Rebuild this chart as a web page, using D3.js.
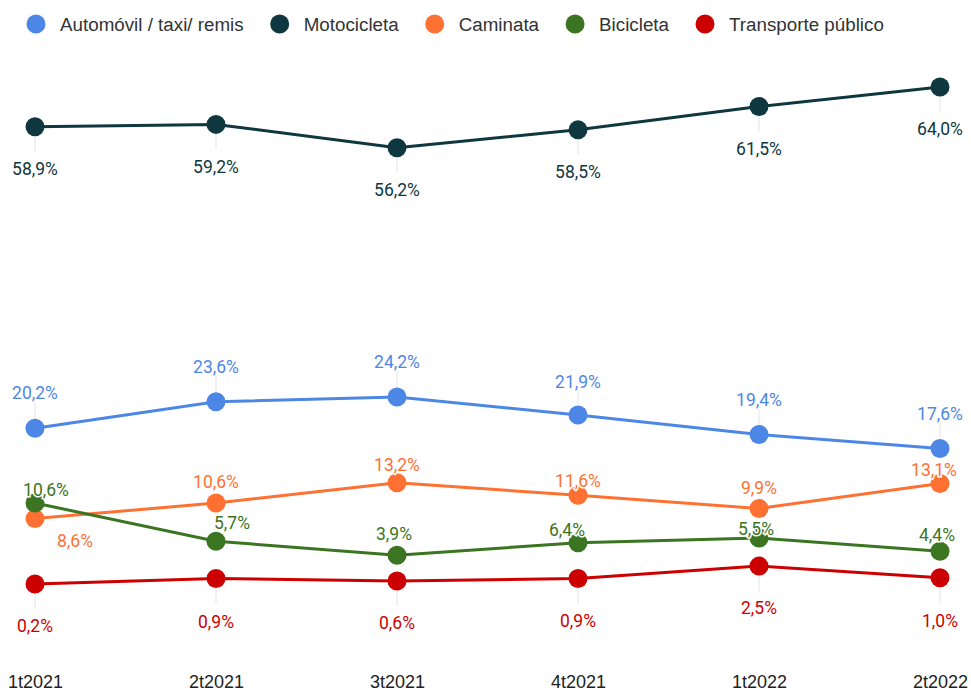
<!doctype html>
<html lang="es">
<head>
    <meta charset="UTF-8">
    <title>Modo de transporte</title>
    <script src="https://d3js.org/d3.v7.min.js"></script>
    <style>
        body { margin: 0; background: #fff; }
        text { font-family: Roboto, "Noto Sans", sans-serif; }
    </style>
</head>
<body>
<script>
  // data
  var periods = ["1t2021", "2t2021", "3t2021", "4t2021", "1t2022", "2t2022"];
  var seriesNames = ["Automóvil / taxi/ remis", "Motocicleta", "Caminata", "Bicicleta", "Transporte público"];
  var automovil = [20.2, 23.6, 24.2, 21.9, 19.4, 17.6];
  var motocicleta = [58.9, 59.2, 56.2, 58.5, 61.5, 64.0];
  var caminata = [8.6, 10.6, 13.2, 11.6, 9.9, 13.1];
  var bicicleta = [10.6, 5.7, 3.9, 5.5, 6.1, 4.4];
  var transporte = [0.2, 0.9, 0.6, 0.9, 2.5, 1.0];
  // printed labels of the bicycle series (differ from the plotted points)
  var bicicletaLabels = ["10,6%", "5,7%", "3,9%", "6,4%", "5,5%", "4,4%"];

  var colors = ["#4d87e6", "#0e3740", "#ff7133", "#3b7521", "#cc0000"];

  var width = 971,
      height = 692;

  var fmt = function(v) { return d3.format(".1f")(v).replace(".", ",") + "%"; };

  var series = [
    {name: seriesNames[0], values: automovil, color: colors[0], leader: -26,
      off: [[0,-35],[0,-35],[0,-35],[0,-33],[0,-35],[0,-35]]},
    {name: seriesNames[1], values: motocicleta, color: colors[1], leader: 25,
      off: [[0,42],[0,42],[0,42],[0,42],[0,42],[0,42]]},
    {name: seriesNames[2], values: caminata, color: colors[2], leader: 0,
      off: [[40,22],[0,-21],[0,-18],[0,-14],[0,-21],[-6,-14]]},
    {name: seriesNames[3], values: bicicleta, color: colors[3], leader: 0, labels: bicicletaLabels,
      off: [[11,-13],[16,-18],[-3,-21],[-11,-13],[-3,-9],[-3,-16]]},
    {name: seriesNames[4], values: transporte, color: colors[4], leader: 25,
      off: [[0,42],[0,43],[0,42],[0,42],[0,42],[0,43]]}
  ];

  var svg = d3.select("body")
      .append("svg")
      .attr("width", width)
      .attr("height", height);

  var scaleX = d3.scalePoint()
      .domain(periods)
      .range([35, 940]);

  var scaleY = d3.scaleLinear()
      .domain([0, 64])
      .range([585.6, 87]);

  // legend
  var legend = svg.append("g").attr("transform", "translate(36,24)");
  var lx = 0;
  series.forEach(function(s) {
    var item = legend.append("g").attr("transform", "translate(" + lx + ",0)");
    item.append("circle").attr("r", 9.5).attr("fill", s.color);
    var t = item.append("text")
        .attr("x", 24)
        .attr("dy", "0.35em")
        .attr("fill", "#333")
        .style("font-family", "'Liberation Sans', Arial, sans-serif")
        .style("font-size", "18.8px")
        .text(s.name);
    lx += 24 + t.node().getComputedTextLength() + 36;
  });

  // x axis labels
  var axisX = d3.axisBottom(scaleX).tickSize(0).tickPadding(0);
  var gx = svg.append("g")
      .attr("transform", "translate(0,675)")
      .call(axisX);
  gx.select(".domain").remove();
  gx.selectAll("text")
      .attr("fill", "#222")
      .style("font-size", "18px")
      .style("font-family", "'Liberation Sans', Arial, sans-serif");

  var line = d3.line()
      .x(function(d, i) { return scaleX(periods[i]); })
      .y(function(d) { return scaleY(d); });

  // leader lines
  series.forEach(function(s) {
    if (!s.leader) return;
    svg.append("g").selectAll("line")
        .data(s.values)
        .join("line")
        .attr("x1", function(d, i) { return scaleX(periods[i]); })
        .attr("x2", function(d, i) { return scaleX(periods[i]); })
        .attr("y1", function(d) { return scaleY(d); })
        .attr("y2", function(d) { return scaleY(d) + s.leader; })
        .attr("stroke", "#e3e3e3")
        .attr("stroke-width", 1);
  });

  // lines and points
  series.forEach(function(s) {
    svg.append("path")
        .datum(s.values)
        .attr("d", line)
        .attr("fill", "none")
        .attr("stroke", s.color)
        .attr("stroke-width", 3);

    svg.append("g").selectAll("circle")
        .data(s.values)
        .join("circle")
        .attr("cx", function(d, i) { return scaleX(periods[i]); })
        .attr("cy", function(d) { return scaleY(d); })
        .attr("r", 9.5)
        .attr("fill", s.color);
  });

  // value labels
  series.forEach(function(s) {
    svg.append("g").selectAll("text")
        .data(s.values)
        .join("text")
        .attr("x", function(d, i) { return scaleX(periods[i]) + s.off[i][0]; })
        .attr("y", function(d, i) { return scaleY(d) + s.off[i][1]; })
        .attr("dy", "0.35em")
        .attr("text-anchor", "middle")
        .attr("fill", s.color)
        .attr("stroke", "#fff")
        .attr("stroke-width", 3)
        .attr("paint-order", "stroke")
        .style("font-size", "17.5px")
        .text(function(d, i) { return s.labels ? s.labels[i] : fmt(d); });
  });
</script>
</body>
</html>
